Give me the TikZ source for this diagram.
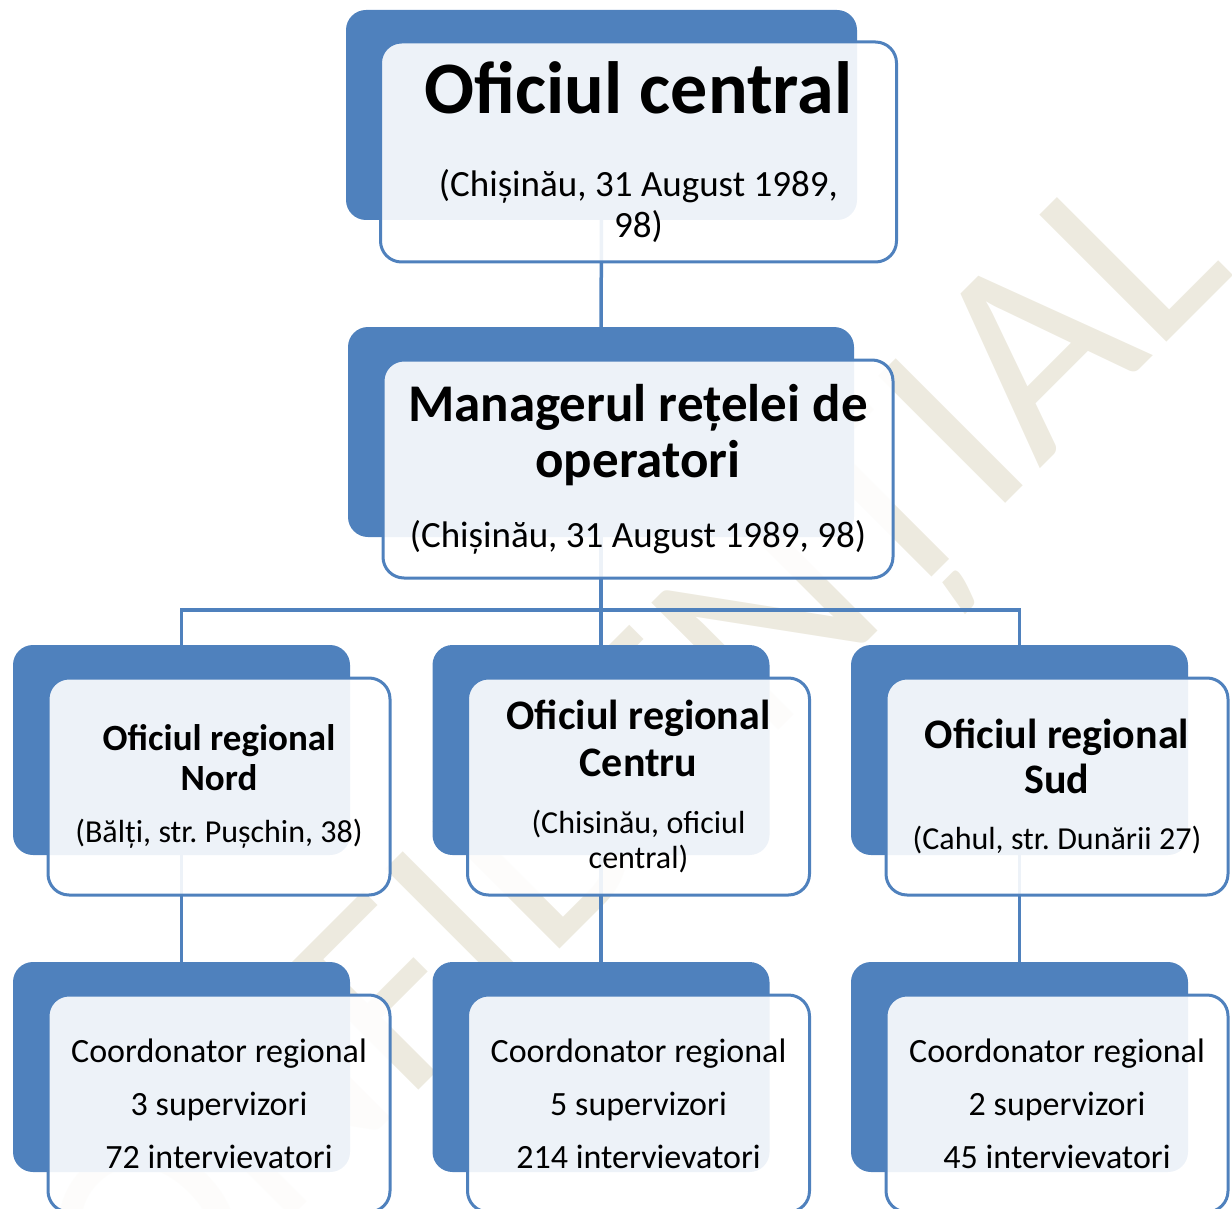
\documentclass[tikz,border=0pt]{standalone}
\usepackage{fontspec}
\setmainfont{Carlito}
\usepackage{xcolor}

\definecolor{boxblue}{RGB}{79,129,189}
\definecolor{stampbeige}{RGB}{237,234,223}

\newcommand{\boxfont}[2]{\fontsize{#1}{#2}\selectfont\spaceskip=.23em\xspaceskip=.23em\relax}

\tikzset{
  back/.style={fill=boxblue, rounded corners=20pt, inner sep=0pt, minimum width=337pt, minimum height=210pt},
  front/.style={draw=boxblue, line width=3pt, fill=white, fill opacity=0.9, text opacity=1, rounded corners=21pt, inner sep=0pt, align=center, minimum width=342pt, minimum height=217pt, text width=340pt},
  link/.style={draw=boxblue, line width=3.5pt},
}

\begin{document}
\begin{tikzpicture}[x=1pt, y=-1pt]
\useasboundingbox (0,0) rectangle (1232,1209);

\node[rotate=45, anchor=base east, text=stampbeige, inner sep=0pt, font=\fontsize{280}{280}\selectfont] (W) at (1237,272) {CONFIDENȚIAL};

\node[back, minimum width=511pt] (Cb) at (601.5,115) {};
\node[back, minimum width=506pt] (Mb) at (601,432) {};
\node[back] (RNb) at (181.5,750) {};
\node[back] (RCb) at (601,750) {};
\node[back] (RSb) at (1019.5,750) {};
\node[back] (KNb) at (181.5,1067) {};
\node[back] (KCb) at (601,1067) {};
\node[back] (KSb) at (1019.5,1067) {};

\coordinate (bus) at (601,610);
\path[link] (Cb) edge (Mb);
\draw[link] (Mb) -- (bus);
\draw[link] (RNb) |- (bus) -| (RSb);
\draw[link] (bus) -- (RCb);
\path[link] (RNb) edge (KNb);
\path[link] (RCb) edge (KCb);
\path[link] (RSb) edge (KSb);

\node[front, minimum width=516pt, minimum height=220pt, text width=512pt] (C) at (638.5,152) {%
{\boxfont{74}{74}\bfseries Oficiul central\par}
{\boxfont{37}{83}(Chișinău, 31 August 1989,\par}
{\boxfont{37}{41}98)\par}\vspace{-5pt}};
\node[front, minimum width=510pt, minimum height=218pt, text width=506pt] (M) at (638,469) {%
{\boxfont{53}{53}\bfseries Managerul rețelei de\par}
{\boxfont{53}{56}\bfseries operatori\par}
{\boxfont{37}{70}(Chișinău, 31 August 1989, 98)\par}\vspace{-5pt}};

\node[front] (RN) at (219,786.5) {%
{\boxfont{37}{37}\bfseries Oficiul regional\par}
{\boxfont{37}{40}\bfseries Nord\par}
{\boxfont{32}{52}(Bălți, str. Pușchin, 38)\par}\vspace{-3pt}};
\node[front] (RC) at (638.5,786.5) {%
{\boxfont{42}{42}\bfseries Oficiul regional\par}
{\boxfont{42}{47}\bfseries Centru\par}
{\boxfont{32}{56.5}(Chisinău, oficiul\par}
{\boxfont{32}{35}central)\par}};
\node[front] (RS) at (1057,786.5) {%
{\boxfont{42}{42}\bfseries Oficiul regional\par}
{\boxfont{42}{45}\bfseries Sud\par}
{\boxfont{32}{56.5}(Cahul, str. Dunării 27)\par}};

\node[front] (KN) at (219,1103.5) {%
{\boxfont{34}{53}Coordonator regional\par 3 supervizori\par 72 intervievatori\par}};
\node[front] (KC) at (638.5,1103.5) {%
{\boxfont{34}{53}Coordonator regional\par 5 supervizori\par 214 intervievatori\par}};
\node[front] (KS) at (1057,1103.5) {%
{\boxfont{34}{53}Coordonator regional\par 2 supervizori\par 45 intervievatori\par}};

\end{tikzpicture}
\end{document}
